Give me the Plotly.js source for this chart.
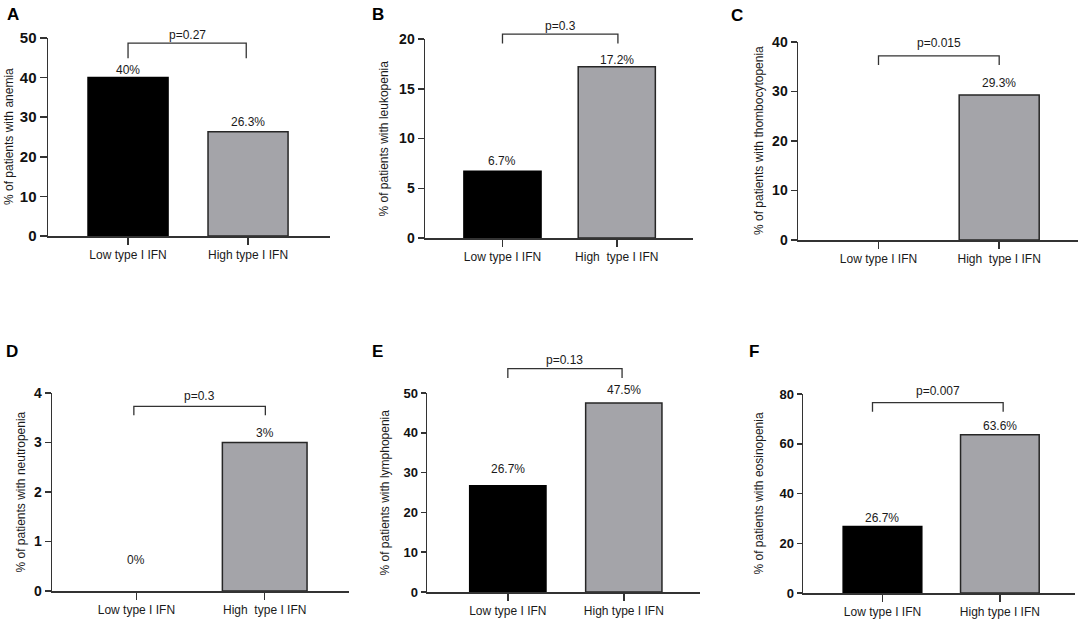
<!DOCTYPE html>
<html>
<head>
<meta charset="utf-8">
<script src="https://cdn.plot.ly/plotly-3.0.1.min.js"></script>
<style>
  html, body { margin: 0; padding: 0; background: #fff; }
  #chart { width: 1084px; height: 620px; }
</style>
</head>
<body>
<div id="chart"></div>
<script>
// categories
var groupsSingle = ["Low type I IFN", "High type I IFN"]
var groupsDouble = ["Low type I IFN", "High\u00a0 type I IFN"]

// % of patients per group
var anemia = [40, 26.3]
var leukopenia = [6.7, 17.2]
var thrombocytopenia = [0, 29.3]
var neutropenia = [0, 3]
var lymphopenia = [26.7, 47.5]
var eosinopenia = [26.7, 63.6]

// bar labels as printed on the figure
var anemiaLabels = ["40%", "26.3%"]
var leukopeniaLabels = ["6.7%", "17.2%"]
var thrombocytopeniaLabels = ["", "29.3%"]
var neutropeniaLabels = ["0%", "3%"]
var lymphopeniaLabels = ["26.7%", "47.5%"]
var eosinopeniaLabels = ["26.7%", "63.6%"]

var pValues = ["p=0.27", "p=0.3", "p=0.015", "p=0.3", "p=0.13", "p=0.007"]
var yMaxes = [50, 20, 40, 4, 50, 80]
var yStep = [10, 5, 10, 1, 10, 20]

var W = 1084, H = 620
var FONT = "Liberation Sans, Arial, sans-serif"
var AXIS = "#333333"

// panel geometry in page pixels
var panels = [
  { letter: "A", cats: groupsSingle, values: anemia, labels: anemiaLabels, title: "% of patients with anemia",
    box: { x0: 48, x1: 330, top: 38, bottom: 236 }, range: [-0.667, 1.683], width: 0.667,
    bracket: { x: [0, 0.985], top: 48.7, drop: 44.9 }, pGap: 8, lift: [8, 10],
    titleX: 9, letterPos: [13, 15], tickSize: 15, tickLen: 7 },
  { letter: "B", cats: groupsDouble, values: leukopenia, labels: leukopeniaLabels, title: "% of patients with leukopenia",
    box: { x0: 425, x1: 693, top: 39, bottom: 238 }, range: [-0.678, 1.667], width: 0.675,
    bracket: { x: [0, 1.01], top: 20.5, drop: 19.56 }, pGap: 8, lift: [10, 7],
    titleX: 383, letterPos: [378, 14], tickSize: 14, tickLen: 6 },
  { letter: "C", cats: groupsDouble, values: thrombocytopenia, labels: thrombocytopeniaLabels, title: "% of patients with thombocytopenia",
    box: { x0: 798, x1: 1078, top: 42, bottom: 240 }, range: [-0.667, 1.653], width: 0.663,
    bracket: { x: [0, 1], top: 37.2, drop: 35.35 }, pGap: 12.5, lift: [9, 12],
    titleX: 759, letterPos: [737, 16], tickSize: 14, tickLen: 6 },
  { letter: "D", cats: groupsDouble, values: neutropenia, labels: neutropeniaLabels, title: "% of patients with neutropenia",
    box: { x0: 52, x1: 349, top: 393, bottom: 591 }, range: [-0.658, 1.657], width: 0.66,
    bracket: { x: [-0.02, 1.005], top: 3.73, drop: 3.55 }, pGap: 10, lift: [30.6, 9.3],
    titleX: 20.5, letterPos: [12, 351], tickSize: 14, tickLen: 6 },
  { letter: "E", cats: groupsSingle, values: lymphopenia, labels: lymphopeniaLabels, title: "% of patients with lymphopenia",
    box: { x0: 427, x1: 700, top: 393, bottom: 592 }, range: [-0.697, 1.657], width: 0.658,
    bracket: { x: [0, 0.985], top: 56.1, drop: 53.8 }, pGap: 9, lift: [17, 12.7],
    titleX: 384, letterPos: [377, 351], tickSize: 13, tickLen: 5 },
  { letter: "F", cats: groupsSingle, values: eosinopenia, labels: eosinopeniaLabels, title: "% of patients with eosinopenia",
    box: { x0: 803, x1: 1075, top: 394, bottom: 593 }, range: [-0.677, 1.64], width: 0.67,
    bracket: { x: [-0.085, 1.028], top: 76.5, drop: 72.9 }, pGap: 11.5, lift: [8.4, 9.3],
    titleX: 758, letterPos: [754, 351], tickSize: 13, tickLen: 5 }
]

function px2x(x) { return x / W }
function px2y(y) { return 1 - y / H }

var data = []
var layout = {
  width: W,
  height: H,
  margin: { t: 0, r: 0, l: 0, b: 0 },
  paper_bgcolor: "#ffffff",
  plot_bgcolor: "rgba(0,0,0,0)",
  showlegend: false,
  font: { family: FONT, color: "#1a1a1a" },
  shapes: [],
  annotations: [],
}

panels.forEach(function (p, i) {
  var n = i === 0 ? "" : String(i + 1)
  var xa = "x" + n, ya = "y" + n
  var b = p.box
  var yMax = yMaxes[i]

  data.push({
    type: "bar",
    x: [0, 1],
    y: p.values,
    width: p.width,
    xaxis: xa,
    yaxis: ya,
    marker: {
      color: ["#000000", "#a4a4a9"],
      // no outline on an empty bar
      line: { color: ["#000000", "#262626"], width: p.values.map(function (v) { return v > 0 ? 1.5 : 0 }) },
    },
    hoverinfo: "skip",
  })

  var ticks = []
  for (var t = 0; t <= yMax + 1e-9; t += yStep[i]) ticks.push(t)

  layout["xaxis" + n] = {
    domain: [px2x(b.x0), px2x(b.x1)],
    range: p.range,
    anchor: ya,
    tickvals: [0, 1],
    ticktext: p.cats,
    ticks: "outside", ticklen: 7, tickwidth: 1.5, tickcolor: AXIS,
    tickfont: { family: FONT, size: 12, color: "#1a1a1a" },
    showline: true, linecolor: AXIS, linewidth: 1.5,
    showgrid: false, zeroline: false, fixedrange: true,
  }
  layout["yaxis" + n] = {
    domain: [px2y(b.bottom), px2y(b.top)],
    range: [0, yMax],
    anchor: xa,
    tickvals: ticks,
    ticks: "outside", ticklen: p.tickLen, tickwidth: 1.5, tickcolor: AXIS,
    tickfont: { family: FONT, size: p.tickSize, color: "#111111", weight: "bold" },
    showline: true, linecolor: AXIS, linewidth: 1.5,
    showgrid: false, zeroline: false, fixedrange: true,
  }

  // data -> paper helpers for this panel (bracket sits partly above the axis)
  function dx(v) { return px2x(b.x0 + (v - p.range[0]) / (p.range[1] - p.range[0]) * (b.x1 - b.x0)) }
  function dyPx(v) { return b.bottom - v / yMax * (b.bottom - b.top) }

  var bx0 = dx(p.bracket.x[0]), bx1 = dx(p.bracket.x[1])
  var topPx = dyPx(p.bracket.top), dropPx = dyPx(p.bracket.drop)
  layout.shapes.push({
    type: "path", xref: "paper", yref: "paper",
    path: "M" + bx0 + "," + px2y(dropPx) + " L" + bx0 + "," + px2y(topPx) +
          " L" + bx1 + "," + px2y(topPx) + " L" + bx1 + "," + px2y(dropPx),
    line: { color: AXIS, width: 1.3 },
  })
  layout.annotations.push({
    xref: "paper", yref: "paper", x: (bx0 + bx1) / 2, y: px2y(topPx - p.pGap),
    text: pValues[i], showarrow: false, xanchor: "center", yanchor: "middle",
    font: { family: FONT, size: 12, color: "#1a1a1a" },
  })

  // value labels
  p.values.forEach(function (v, k) {
    if (!p.labels[k]) return
    layout.annotations.push({
      xref: xa, yref: ya, x: k, y: v, yshift: p.lift[k],
      text: p.labels[k], showarrow: false, xanchor: "center", yanchor: "middle",
      font: { family: FONT, size: 12, color: "#1a1a1a" },
    })
  })

  // y axis title
  layout.annotations.push({
    xref: "paper", yref: "paper", x: px2x(p.titleX), y: px2y((b.top + b.bottom) / 2),
    text: p.title, textangle: -90, showarrow: false, xanchor: "center", yanchor: "middle",
    font: { family: FONT, size: 12, color: "#1a1a1a" },
  })

  // panel letter
  layout.annotations.push({
    xref: "paper", yref: "paper", x: px2x(p.letterPos[0]), y: px2y(p.letterPos[1]),
    text: "<b>" + p.letter + "</b>", showarrow: false, xanchor: "center", yanchor: "middle",
    font: { family: FONT, size: 17, color: "#000000" },
  })
})

Plotly.newPlot("chart", data, layout, { displayModeBar: false, staticPlot: true })
</script>
</body>
</html>
